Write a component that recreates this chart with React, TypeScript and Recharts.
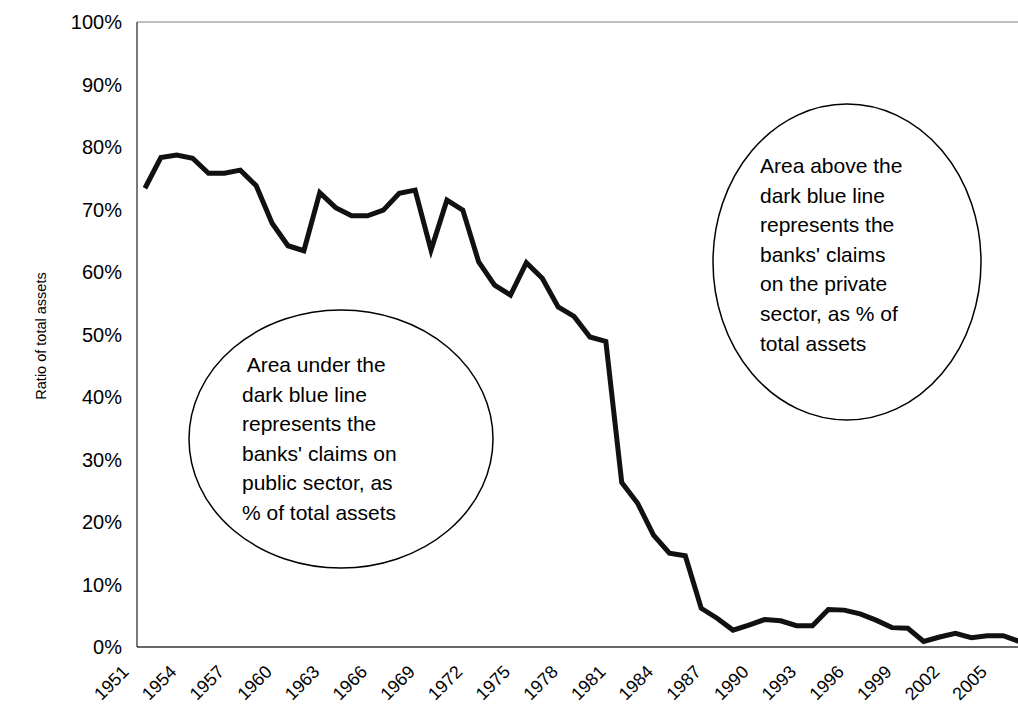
import React from "react";
import { LineChart, Line, XAxis, YAxis, ReferenceLine } from "recharts";

const years = [
  1951, 1952, 1953, 1954, 1955, 1956, 1957, 1958, 1959, 1960,
  1961, 1962, 1963, 1964, 1965, 1966, 1967, 1968, 1969, 1970,
  1971, 1972, 1973, 1974, 1975, 1976, 1977, 1978, 1979, 1980,
  1981, 1982, 1983, 1984, 1985, 1986, 1987, 1988, 1989, 1990,
  1991, 1992, 1993, 1994, 1995, 1996, 1997, 1998, 1999, 2000,
  2001, 2002, 2003, 2004, 2005, 2006,
];

const publicShare = [
  73.4, 78.3, 78.7, 78.2, 75.8, 75.8, 76.3, 73.8, 67.8, 64.2,
  63.4, 72.7, 70.3, 69.0, 69.0, 69.9, 72.6, 73.1, 63.5, 71.5,
  69.9, 61.6, 57.9, 56.3, 61.5, 59.0, 54.4, 52.9, 49.6, 48.9,
  26.3, 23.0, 17.9, 15.0, 14.6, 6.2, 4.6, 2.7, 3.5, 4.4,
  4.2, 3.4, 3.4, 6.0, 5.9, 5.3, 4.3, 3.1, 3.0, 0.9,
  1.6, 2.2, 1.5, 1.8, 1.8, 0.9,
];

const xTicks = [1951, 1954, 1957, 1960, 1963, 1966, 1969, 1972, 1975, 1978, 1981, 1984, 1987, 1990, 1993, 1996, 1999, 2002, 2005];
const yTicks = [0, 10, 20, 30, 40, 50, 60, 70, 80, 90, 100];

const leftNote = [" Area under the", "dark blue line", "represents the", "banks' claims on", "public sector, as", "% of total assets"];
const rightNote = ["Area above the", "dark blue line", "represents the", "banks' claims", "on the private", "sector, as % of", "total assets"];

const data = years.map((year, i) => ({ year, value: publicShare[i] }));

const FONT = "'Liberation Sans', Arial, sans-serif";

const YearTick = (props: any) => {
  const { x, y, payload } = props;
  const ax = x - 15;
  const ay = y + 26;
  return (
    <text
      x={ax}
      y={ay}
      transform={`rotate(-45, ${ax}, ${ay})`}
      textAnchor="end"
      fontFamily={FONT}
      fontSize={18}
      fill="#000"
    >
      {payload.value}
    </text>
  );
};

export default function App() {
  return (
    <div
      style={{
        position: "absolute",
        left: 0,
        top: 0,
        width: 1018,
        height: 709,
        overflow: "hidden",
        background: "#fff",
      }}
    >
      <LineChart
        width={1030}
        height={709}
        data={data}
        margin={{ top: 22, right: 3, left: 0, bottom: 32 }}
      >
        <XAxis
          dataKey="year"
          type="number"
          domain={[1950.5, 2006.5]}
          ticks={xTicks}
          tick={<YearTick />}
          tickLine={false}
          tickSize={0}
          tickMargin={0}
          height={30}
          axisLine={{ stroke: "#333", strokeWidth: 1.5 }}
          interval={0}
          allowDataOverflow
        />
        <YAxis
          width={137}
          domain={[0, 100]}
          ticks={yTicks}
          tickFormatter={(v: number) => `${v}%`}
          tick={{ fontSize: 20, fill: "#000", fontFamily: FONT }}
          tickLine={false}
          tickSize={6}
          tickMargin={9}
          axisLine={{ stroke: "#222", strokeWidth: 1.2 }}
          interval={0}
        />
        <ReferenceLine y={100} stroke="#808080" strokeWidth={1} />
        <Line
          type="linear"
          dataKey="value"
          stroke="#111"
          strokeWidth={5}
          dot={false}
          activeDot={false}
          isAnimationActive={false}
        />
      </LineChart>
      <svg
        width={1018}
        height={709}
        style={{ position: "absolute", left: 0, top: 0, pointerEvents: "none" }}
      >
        <text
          x={46}
          y={336}
          transform="rotate(-90, 46, 336)"
          textAnchor="middle"
          fontFamily={FONT}
          fontSize={14.5}
          fill="#000"
        >
          Ratio of total assets
        </text>
        <ellipse cx={341} cy={439} rx={152} ry={129} fill="none" stroke="#000" strokeWidth={1.5} />
        <text fontFamily={FONT} fontSize={21} fill="#000" xmlSpace="preserve">
          {leftNote.map((line, i) => (
            <tspan key={i} x={242} y={372 + i * 29.5}>
              {line}
            </tspan>
          ))}
        </text>
        <ellipse cx={847} cy={262} rx={134} ry={158} fill="none" stroke="#000" strokeWidth={1.5} />
        <text fontFamily={FONT} fontSize={21} fill="#000">
          {rightNote.map((line, i) => (
            <tspan key={i} x={760} y={173 + i * 29.6}>
              {line}
            </tspan>
          ))}
        </text>
      </svg>
    </div>
  );
}
